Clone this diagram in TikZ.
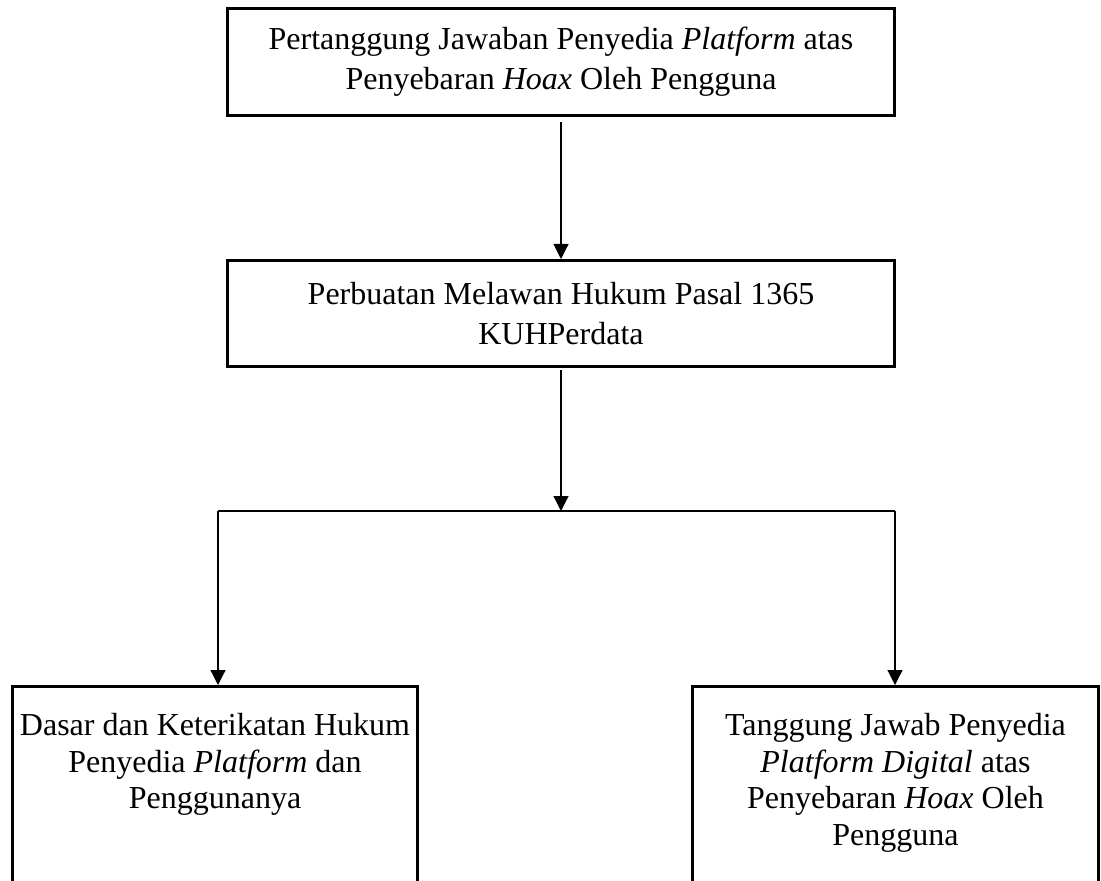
\documentclass[tikz,border=0pt]{standalone}
\usepackage{fontspec}
\setmainfont{Liberation Serif}
\usetikzlibrary{arrows.meta}
\begin{document}
\begin{tikzpicture}[x=0.5pt,y=-0.5pt,
  box/.style={draw, line width=1.5pt, align=center, inner xsep=0pt, inner ysep=0pt,
    font=\fontsize{16}{18.3}\selectfont},
  widebox/.style={box, minimum width=333.5pt, font=\fontsize{16}{20}\selectfont},
  openbox/.style={box, anchor=north, minimum width=202.5pt, inner ysep=13.5pt},
  conn/.style={line width=0.6pt, -{Triangle[length=7.5pt,width=7.5pt]}},
  link/.style={line width=0.6pt}]
\useasboundingbox (0,0) rectangle (1101,881);
\clip (0,0) rectangle (1101,881);
\node[widebox, minimum height=53.5pt] (top) at (561,62)
  {Pertanggung Jawaban Penyedia \textit{Platform} atas\\Penyebaran \textit{Hoax} Oleh Pengguna};
\node[widebox, minimum height=53pt] (mid) at (561,313.5)
  {Perbuatan Melawan Hukum Pasal 1365\\KUHPerdata};
\node[openbox] (left) at (215,685)
  {\parbox[t][130pt][t]{200pt}{\centering Dasar dan Keterikatan Hukum\\Penyedia \textit{Platform} dan\\Penggunanya}};
\node[openbox, minimum width=203pt] (right) at (895.5,685)
  {\parbox[t][130pt][t]{200pt}{\centering Tanggung Jawab Penyedia\\\textit{Platform Digital} atas\\Penyebaran \textit{Hoax} Oleh\\Pengguna}};
\coordinate (split) at (561,511);
\coordinate (jl) at (218,511);
\coordinate (jr) at (895,511);
\draw[conn, shorten <=2.5pt] (top.south) -- (mid.north);
\draw[conn, shorten <=1pt] (mid.south) -- (split);
\draw[link] (jl) -- (jr);
\draw[conn] (jl) -- (jl |- left.north);
\draw[conn] (jr) -- (jr |- right.north);
\end{tikzpicture}
\end{document}
